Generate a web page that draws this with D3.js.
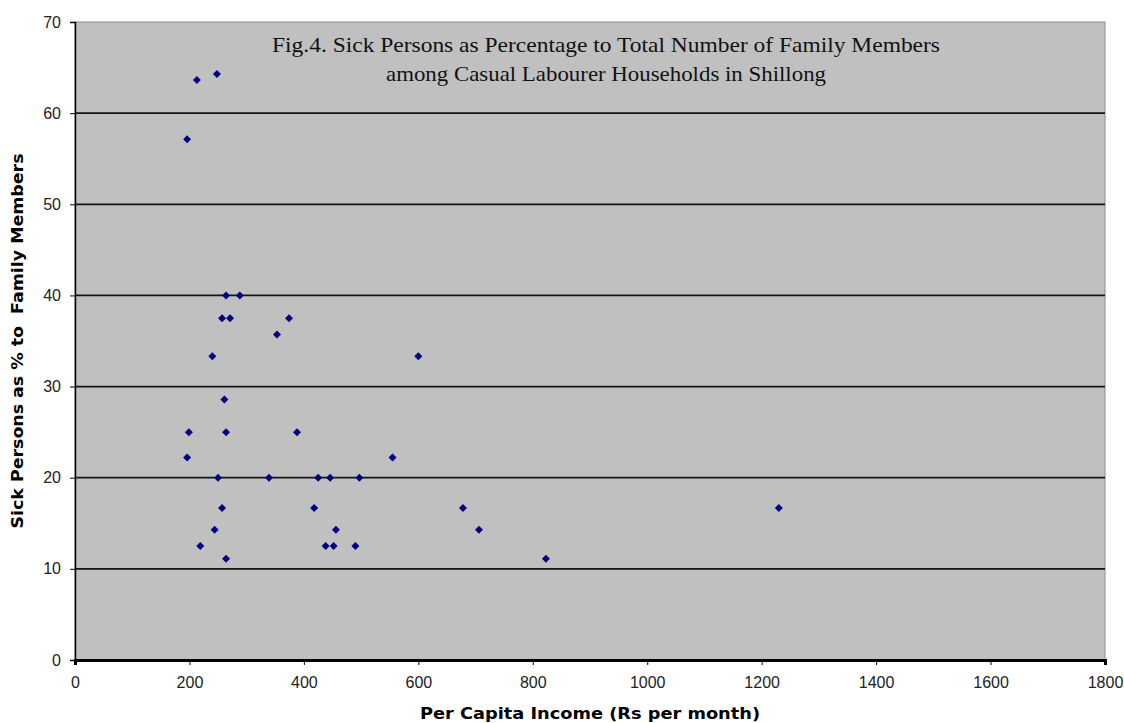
<!DOCTYPE html>
<html><head><meta charset="utf-8">
<script src="https://cdn.jsdelivr.net/npm/d3@7"></script>
<style>body{margin:0;background:#fff}svg{display:block}</style>
</head><body>
<svg id="c" width="1124" height="723"></svg>
<script>
const income = [213,248,196,264,288,257,271,374,353,240,600,261,199,264,388,196,555,250,339,425,446,497,257,418,678,1230,244,456,706,219,438,452,490,264,823];
const sickPct = [63.64,64.29,57.14,40,40,37.5,37.5,37.5,35.71,33.33,33.33,28.57,25,25,25,22.22,22.22,20,20,20,20,20,16.67,16.67,16.67,16.67,14.29,14.29,14.29,12.5,12.5,12.5,12.5,11.11,11.11];
const xTicks = [0,200,400,600,800,1000,1200,1400,1600,1800];
const yTicks = [0,10,20,30,40,50,60,70];
const titleLines = ["Fig.4. Sick Persons as Percentage to Total Number of Family Members","among Casual Labourer Households in Shillong"];
const xTitle = "Per Capita Income (Rs per month)";
const yTitle = "Sick Persons as % to  Family Members";

const svg = d3.select("#c");
const L=75,R=1105,T=22,B=660;
const x = d3.scaleLinear().domain([0,1800]).range([L,R]);
const y = d3.scaleLinear().domain([0,70]).range([B,T]);

svg.append("rect").attr("x",L).attr("y",T).attr("width",R-L).attr("height",B-T)
  .attr("fill","#c0c0c0").attr("stroke","#9a9a9a").attr("stroke-width",1.2);

// gridlines
svg.append("g").selectAll("line").data(yTicks.filter(d=>d>0&&d<70)).join("line")
  .attr("x1",L).attr("x2",R).attr("y1",d=>y(d)).attr("y2",d=>y(d))
  .attr("stroke","#151515").attr("stroke-width",1.8);

const tickFont = "Liberation Sans, Arial, sans-serif";
// y axis
const ya = svg.append("g").attr("transform",`translate(${L},0)`)
  .call(d3.axisLeft(y).tickValues(yTicks).tickSize(5).tickPadding(9).tickFormat(d3.format("d")));
ya.select(".domain").attr("stroke","#000").attr("stroke-width",1.5);
ya.selectAll("text").attr("font-family",tickFont).attr("font-size",16).attr("fill","#222");

// x axis
const xa = svg.append("g").attr("transform",`translate(0,${B})`)
  .call(d3.axisBottom(x).tickValues(xTicks).tickSize(5).tickPadding(12).tickFormat(d3.format("d")));
xa.select(".domain").attr("stroke","#000").attr("stroke-width",3);
xa.selectAll("text").attr("font-family",tickFont).attr("font-size",16).attr("fill","#222");

// points
const sym = d3.symbol().type(d3.symbolSquare).size(32);
svg.append("g").selectAll("path").data(income.map((v,i)=>[v,sickPct[i]])).join("path")
  .attr("d",sym).attr("fill","#000080")
  .attr("transform",d=>`translate(${x(d[0])},${y(d[1])}) rotate(45)`);

// title
const tw=[668,440];
svg.append("g").selectAll("text").data(titleLines).join("text")
  .attr("x",606).attr("y",(d,i)=>52+i*29).attr("text-anchor","middle")
  .attr("font-family","Liberation Serif, Times New Roman, serif").attr("font-size",21)
  .attr("fill","#111").attr("textLength",(d,i)=>tw[i]).attr("lengthAdjust","spacingAndGlyphs")
  .text(d=>d);

// axis titles
const axFont = "DejaVu Sans, Verdana, sans-serif";
svg.append("text").attr("x",590).attr("y",719).attr("text-anchor","middle")
  .attr("font-family",axFont).attr("font-weight","bold").attr("font-size",16)
  .attr("textLength",340).attr("lengthAdjust","spacingAndGlyphs")
  .attr("fill","#000").text(xTitle);
svg.append("text").attr("transform","translate(23,341) rotate(-90)").attr("text-anchor","middle")
  .attr("font-family",axFont).attr("font-weight","bold").attr("font-size",16)
  .attr("textLength",375).attr("lengthAdjust","spacingAndGlyphs")
  .attr("fill","#000").style("white-space","pre").text(yTitle);
</script>
</body></html>
